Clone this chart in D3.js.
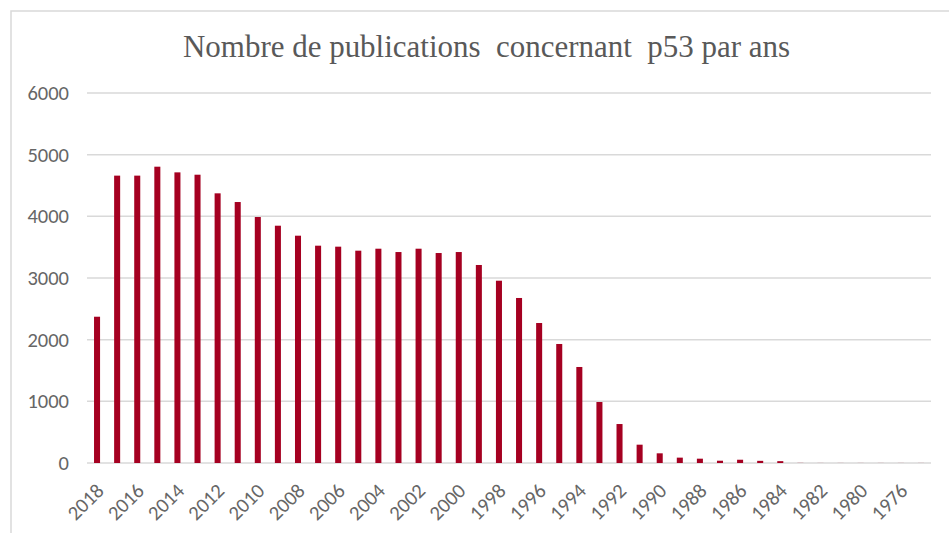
<!DOCTYPE html>
<html>
<head>
<meta charset="utf-8">
<script src="https://cdn.jsdelivr.net/npm/d3@7"></script>
<style>
  html, body { margin: 0; padding: 0; background: #fff; }
  svg { display: block; }
</style>
</head>
<body>
<div id="chart"></div>
<script>
const years = ["2018","2017","2016","2015","2014","2013","2012","2011","2010","2009",
  "2008","2007","2006","2005","2004","2003","2002","2001","2000","1999",
  "1998","1997","1996","1995","1994","1993","1992","1991","1990","1989",
  "1988","1987","1986","1985","1984","1983","1982","1981","1980","1979",
  "1976","1975"];
const publications = [2372,4660,4660,4805,4713,4675,4373,4232,3989,3848,
  3686,3524,3508,3443,3475,3421,3475,3405,3421,3211,
  2956,2676,2270,1930,1557,989,632,297,157,87,
  70,37,53,35,30,2,1,1,1,1,
  1,1];
const yTicks = [0,1000,2000,3000,4000,5000,6000];
const title = "Nombre de publications\u00a0 concernant\u00a0 p53 par ans";

const W = 949, H = 533;
const margin = {left: 87, right: 949 - 931, top: 93, bottom: 533 - 463};
const svg = d3.select("#chart").append("svg").attr("width", W).attr("height", H);

// chart border
svg.append("rect").attr("x", 11).attr("y", 11).attr("width", 960).attr("height", 560)
  .attr("fill", "none").attr("stroke", "#d9d9d9").attr("stroke-width", 1.5);

const x = d3.scaleBand().domain(years).range([margin.left, W - margin.right]).paddingInner(0.7).paddingOuter(0.35);
const y = d3.scaleLinear().domain([0, 6000]).range([H - margin.bottom, margin.top]);

// gridlines
svg.append("g").selectAll("line").data(yTicks).join("line")
  .attr("x1", margin.left).attr("x2", W - margin.right)
  .attr("y1", d => y(d)).attr("y2", d => y(d))
  .attr("stroke", "#d9d9d9").attr("stroke-width", 1.5);

const labelFont = "Carlito, Lato, 'Open Sans', sans-serif";

// y axis labels
const yAxis = d3.axisLeft(y).tickValues(yTicks).tickFormat(d3.format("d")).tickSize(0).tickPadding(18);
const gy = svg.append("g").attr("transform", `translate(${margin.left},0)`).call(yAxis);
gy.select(".domain").remove();
gy.selectAll("text").attr("fill", "#666").style("font-family", labelFont).style("font-size", "20.5px");

// bars
svg.append("g").selectAll("rect").data(years).join("rect")
  .attr("x", (d) => x(d))
  .attr("width", x.bandwidth())
  .attr("y", (d, i) => y(publications[i]))
  .attr("height", (d, i) => y(0) - y(publications[i]))
  .attr("fill", "#a50021");

// x axis
const xAxis = d3.axisBottom(x).tickValues(years.filter((d, i) => i % 2 === 0)).tickSize(0);
const gx = svg.append("g").attr("transform", `translate(0,${y(0)})`).call(xAxis);
gx.select(".domain").remove();
gx.selectAll("text")
  .attr("fill", "#666")
  .style("font-family", labelFont).style("font-size", "20.5px")
  .attr("text-anchor", "end")
  .attr("y", 0)
  .attr("dy", "0.35em")
  .attr("transform", "translate(3,24) rotate(-45)");

// title
svg.append("text")
  .attr("x", 183).attr("y", 57)
  .attr("textLength", 607).attr("lengthAdjust", "spacingAndGlyphs")
  .attr("fill", "#595959")
  .style("font-family", "'Liberation Serif', 'Times New Roman', serif")
  .style("font-size", "31px")
  .text(title);
</script>
</body>
</html>
